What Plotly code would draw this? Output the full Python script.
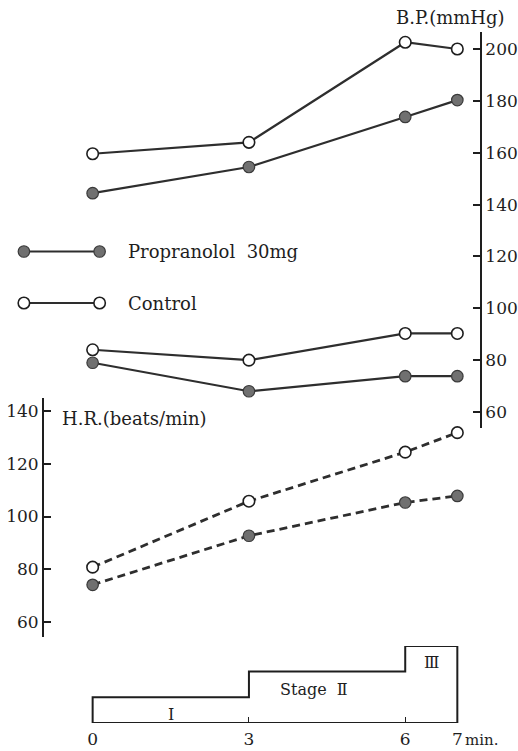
import plotly.graph_objects as go

# Time points (min)
minutes = [0, 3, 6, 7]

# Blood pressure (mmHg)
bp_sys_control = [159.6, 164, 202.6, 200]
bp_sys_propranolol = [144.4, 154.5, 173.8, 180.3]
bp_dia_control = [84, 80, 90.3, 90.3]
bp_dia_propranolol = [79, 68, 73.8, 73.8]

# Heart rate (beats/min)
hr_control = [80.8, 105.8, 124.4, 131.8]
hr_propranolol = [74.1, 92.7, 105.3, 107.8]

# Exercise stages
stage_start = [0, 3, 6]
stage_end = [3, 6, 7]
stage_level = [1, 2, 3]
stage_names = ["Ⅰ", "Stage  Ⅱ", "Ⅲ"]

bp_ticks = [60, 80, 100, 120, 140, 160, 180, 200]
hr_ticks = [60, 80, 100, 120, 140]
x_ticks = [0, 3, 6, 7]

W, H = 518, 751
FONT = "DejaVu Serif"
INK = "#1e1e1e"
LINE = "#2e2e2e"
FILL = "#707070"
CLEAR = "rgba(0,0,0,0)"


def py(px):
    """Convert a pixel row (from the top) to a paper fraction."""
    return 1 - px / H


def px_(pxc):
    return pxc / W


open_marker = dict(size=11.5, color="white", line=dict(color=INK, width=1.6))
filled_marker = dict(size=11.5, color=FILL, line=dict(color="#3a3a3a", width=1.2))

fig = go.Figure()

# Blood pressure, systolic and diastolic
for ys, mk in [(bp_sys_control, open_marker), (bp_sys_propranolol, filled_marker),
               (bp_dia_control, open_marker), (bp_dia_propranolol, filled_marker)]:
    fig.add_trace(go.Scatter(
        x=minutes, y=ys, yaxis="y2", mode="lines+markers",
        line=dict(color=LINE, width=2.2), marker=mk, cliponaxis=False,
        showlegend=False, hoverinfo="x+y"))

# Heart rate
for ys, mk in [(hr_control, open_marker), (hr_propranolol, filled_marker)]:
    fig.add_trace(go.Scatter(
        x=minutes, y=ys, yaxis="y", mode="lines+markers",
        line=dict(color=LINE, width=2.8, dash="8px,5px"), marker=mk,
        cliponaxis=False, showlegend=False, hoverinfo="x+y"))

# x scale: minute 0 at pixel 93
x0_px, px_per_min = 93, 52.3
x_range = [-x0_px / px_per_min, (W - x0_px) / px_per_min]

# B.P. axis: 200 at px 49, 60 at px 412, line from px 32 to 428
bp_scale = (412 - 49) / 140
bp_top, bp_bot = 32, 428
bp_range = [60 - (bp_bot - 412) / bp_scale, 200 + (49 - bp_top) / bp_scale]

# H.R. axis: 140 at px 411, 60 at px 622, line from px 398 to 637
hr_scale = (622 - 411) / 80
hr_top, hr_bot = 398, 637
hr_range = [60 - (hr_bot - 622) / hr_scale, 140 + (411 - hr_top) / hr_scale]

base_px = 723
stage_px_per_level = 25.7

axis_common = dict(showgrid=False, zeroline=False, showline=True, linecolor=INK,
                   linewidth=1.6, ticks="inside", ticklen=7, tickwidth=1.5,
                   tickcolor=INK, tickfont=dict(family=FONT, size=17, color=INK),
                   fixedrange=True)

fig.update_layout(
    width=W, height=H, margin=dict(l=0, r=0, t=0, b=0),
    paper_bgcolor="white", plot_bgcolor=CLEAR, showlegend=False,
    xaxis=dict(range=x_range, domain=[0, 1], anchor="free", position=py(base_px),
               showgrid=False, zeroline=False, showline=False, ticks="inside",
               ticklen=6, tickwidth=1.3, tickcolor=INK, tickvals=x_ticks,
               ticktext=[str(v) for v in x_ticks], ticklabelstandoff=4,
               tickfont=dict(family=FONT, size=17, color=INK), fixedrange=True),
    yaxis=dict(range=hr_range, domain=[py(hr_bot), py(hr_top)], anchor="free",
               position=px_(43), side="left", tickvals=hr_ticks, **axis_common),
    yaxis2=dict(range=bp_range, domain=[py(bp_bot), py(bp_top)], anchor="free",
                position=px_(483), side="right", tickvals=bp_ticks, **axis_common),
    yaxis3=dict(range=[0, 3], domain=[py(base_px), py(base_px - 3 * stage_px_per_level)],
                anchor="free", position=0, visible=False, fixedrange=True),
)

# Stage profile outline
path = f"M {stage_start[0]},0"
for s, e, lv in zip(stage_start, stage_end, stage_level):
    path += f" L {s},{lv} L {e},{lv}"
path += f" L {stage_end[-1]},0 Z"
fig.add_shape(type="path", path=path, xref="x", yref="y3",
              line=dict(color=INK, width=2), fillcolor=CLEAR)

# Stage labels
label_pos = [(1.5, 0.35), (4.25, 1.3), (6.5, 2.35)]
for name, (lx, ly) in zip(stage_names, label_pos):
    fig.add_annotation(x=lx, y=ly, xref="x", yref="y3", text=name, showarrow=False,
                       xanchor="center", yanchor="middle",
                       font=dict(family=FONT, size=16, color=INK))

# Time unit next to the last tick
fig.add_annotation(x=7, y=py(740), xref="x", yref="paper", text="min.",
                   showarrow=False, xanchor="left", yanchor="middle", xshift=6,
                   font=dict(family=FONT, size=15, color=INK))

# Axis titles
fig.add_annotation(x=px_(452), y=py(18), xref="paper", yref="paper",
                   text="B.P.(mmHg)", showarrow=False, xanchor="center",
                   yanchor="middle", font=dict(family=FONT, size=18, color=INK))
fig.add_annotation(x=px_(60), y=py(418), xref="paper", yref="paper",
                   text="H.R.(beats/min)", showarrow=False, xanchor="left",
                   yanchor="middle", font=dict(family=FONT, size=18, color=INK))

# Legend keys
r = 5.75
for yrow, filled, label in [(251.5, True, "Propranolol  30mg"), (303, False, "Control")]:
    fig.add_shape(type="line", xref="paper", yref="paper",
                  x0=px_(24), x1=px_(100), y0=py(yrow), y1=py(yrow),
                  line=dict(color=LINE, width=2.2))
    for cx in (24, 100):
        fig.add_shape(type="circle", xref="paper", yref="paper",
                      x0=px_(cx - r), x1=px_(cx + r), y0=py(yrow + r), y1=py(yrow - r),
                      fillcolor=FILL if filled else "white",
                      line=dict(color="#3a3a3a" if filled else INK,
                                width=1.2 if filled else 1.6))
    fig.add_annotation(x=px_(126), y=py(yrow), xref="paper", yref="paper",
                       text=label, showarrow=False, xanchor="left", yanchor="middle",
                       font=dict(family=FONT, size=18, color=INK))

fig.write_html("out.html")
